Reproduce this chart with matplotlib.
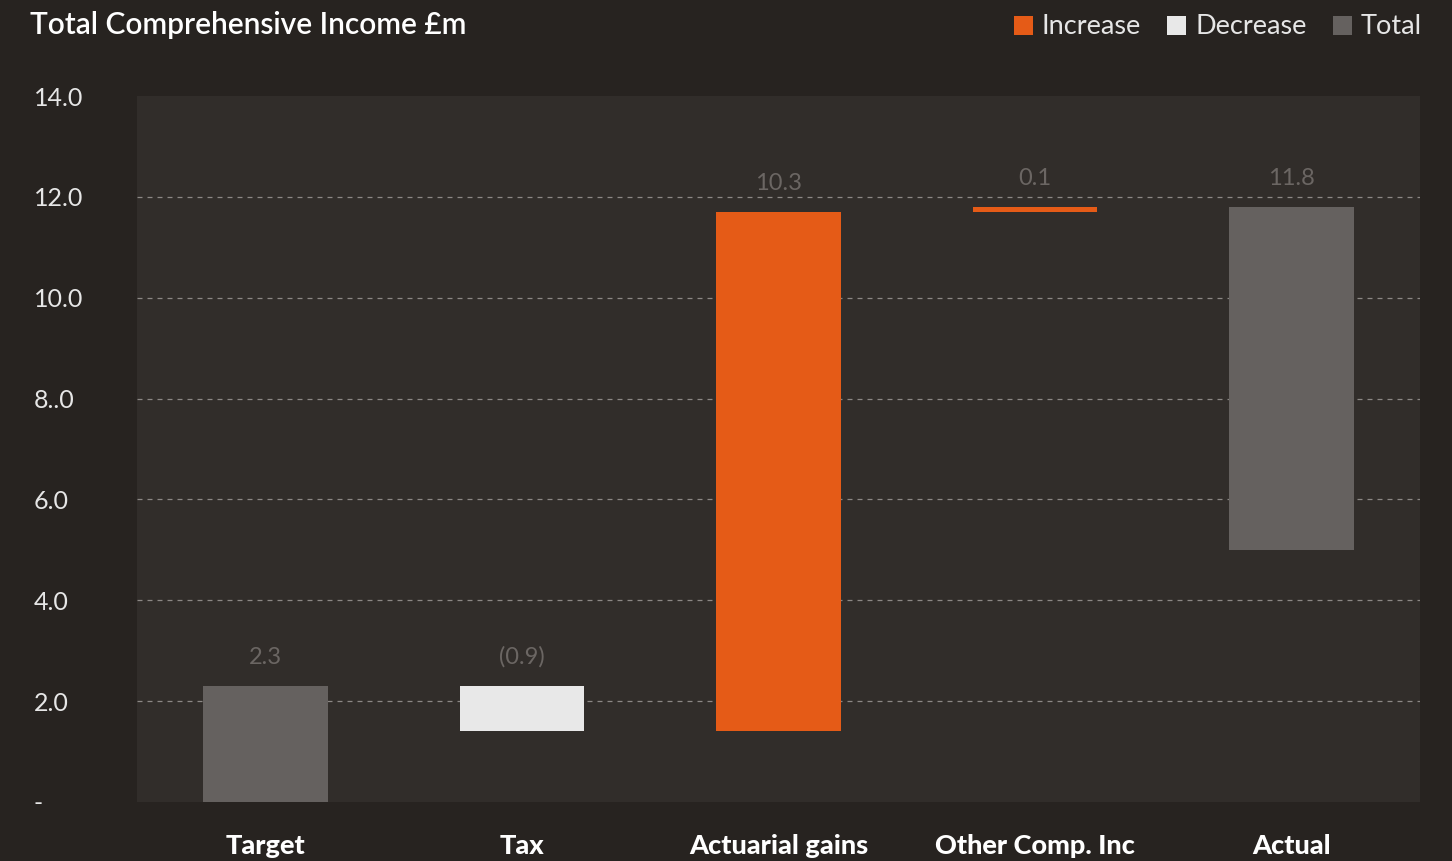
import matplotlib
matplotlib.use("Agg")
import matplotlib.pyplot as plt
from matplotlib.patches import Rectangle

# Waterfall data (£m)
categories = ["Target", "Tax", "Actuarial gains", "Other Comp. Inc", "Actual"]
changes = [2.3, -0.9, 10.3, 0.1, 11.8]
kinds = ["total", "decrease", "increase", "increase", "total"]
value_labels = ["2.3", "(0.9)", "10.3", "0.1", "11.8"]
actual_floor = 5.0

y_ticks = [0, 2, 4, 6, 8, 10, 12, 14]
y_tick_labels = ["-", "2.0", "4.0", "6.0", "8..0", "10.0", "12.0", "14.0"]
legend_items = [("Increase", "increase"), ("Decrease", "decrease"), ("Total", "total")]

FIG_BG = "#272320"
AX_BG = "#312d2a"
colors = {"increase": "#e55b17", "decrease": "#e8e8e8", "total": "#65615f"}
LABEL_GREY = "#6b6663"

plt.rcParams["font.family"] = ["Lato", "DejaVu Sans"]

fig = plt.figure(figsize=(14.52, 8.61), dpi=100, facecolor=FIG_BG)
ax = fig.add_axes([137 / 1452, 1 - 802 / 861, (1420 - 137) / 1452, (802 - 96) / 861])
ax.set_facecolor(AX_BG)

# Compute bar extents from the running total
bottoms, heights = [], []
level = 0.0
for i, (chg, kind) in enumerate(zip(changes, kinds)):
    if kind == "total":
        base = 0.0 if i == 0 else actual_floor
        bottoms.append(base)
        heights.append(chg - base)
        level = chg
    else:
        bottoms.append(level if chg >= 0 else level + chg)
        heights.append(abs(chg))
        level += chg

x = list(range(len(categories)))
bar_colors = [colors[k] for k in kinds]
ax.bar(x, heights, bottom=bottoms, width=0.485, color=bar_colors, zorder=3)

for xi, b, h, lab in zip(x, bottoms, heights, value_labels):
    ax.annotate(lab, (xi, b + h), xytext=(0, 13), textcoords="offset points",
                ha="center", va="bottom", color=LABEL_GREY, fontsize=17)

ax.set_xlim(-0.5, len(categories) - 0.5)
ax.set_ylim(0, 14)

for g in y_ticks[1:-1]:
    ax.axhline(g, color="#8c8885", linewidth=0.9, linestyle=(0, (4, 4)), zorder=1)

ax.set_yticks(y_ticks)
ax.set_yticklabels(y_tick_labels)
for t in ax.get_yticklabels():
    t.set_horizontalalignment("left")
ax.tick_params(axis="y", length=0, pad=74.5, labelsize=18, labelcolor="#e6e6e6")

ax.set_xticks(x)
ax.set_xticklabels(categories, fontweight="black")
ax.tick_params(axis="x", length=0, pad=23, labelsize=19.5, labelcolor="#ffffff")

for s in ax.spines.values():
    s.set_visible(False)

fig.text(30 / 1452, 1 - 25 / 861, "Total Comprehensive Income £m", color="#ffffff",
         fontsize=21.5, fontweight="semibold", ha="left", va="center")

# Legend row across the top right
legend_x = [1014, 1167, 1333]
for (name, kind), lx in zip(legend_items, legend_x):
    fig.patches.append(Rectangle((lx / 1452, 1 - 35 / 861), 19 / 1452, 19 / 861,
                                 transform=fig.transFigure, facecolor=colors[kind],
                                 edgecolor="none"))
    fig.text((lx + 28) / 1452, 1 - 26 / 861, name, color="#e6e6e6", fontsize=19.5,
             ha="left", va="center")

fig.savefig("out.png", dpi=100, facecolor=FIG_BG)
